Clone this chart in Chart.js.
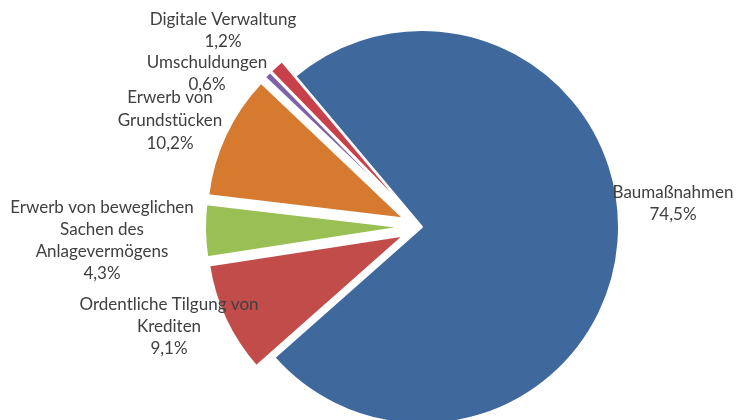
<!DOCTYPE html>
<html><head><meta charset="utf-8">
<script src="https://cdn.jsdelivr.net/npm/chart.js@4.4.1/dist/chart.umd.min.js"></script>
<style>html,body{margin:0;padding:0;background:#fff}#wrap{width:737px;height:420px;position:relative}</style>
</head><body><div id="wrap"><canvas id="c" width="737" height="420"></canvas></div>
<script>
const categories = ["Baumaßnahmen","Ordentliche Tilgung von Krediten","Erwerb von beweglichen Sachen des Anlagevermögens","Erwerb von Grundstücken","Umschuldungen","Digitale Verwaltung"];
const shares = [74.5, 9.1, 4.3, 10.2, 0.6, 1.2];
const valueLabels = ["74,5%","9,1%","4,3%","10,2%","0,6%","1,2%"];
const labelLines = [["Baumaßnahmen"],["Ordentliche Tilgung von","Krediten"],["Erwerb von beweglichen","Sachen des","Anlagevermögens"],["Erwerb von","Grundstücken"],["Umschuldungen"],["Digitale Verwaltung"]];
const colors = ["#3F689D","#C14C4A","#99BF55","#D57A2F","#7E63A8","#C8414A"];
// explosion distance per slice (px)
const explode = [0, 20, 20, 20, 20, 20];
// label placement (center x, first line y, line height)
const labelPos = [[673,193,22],[169,305,22],[102,208,22],[170,98,23],[207,63,22],[223,20,22]];

const explodePlugin = {
  id:'explode',
  beforeDatasetDraw(chart, args){
    const ctx = chart.ctx;
    args.meta.data.forEach((arc,i)=>{
      const d = explode[i] || 0;
      const mid = (arc.startAngle + arc.endAngle)/2;
      ctx.save();
      ctx.translate(Math.cos(mid)*d, Math.sin(mid)*d);
      arc.draw(ctx);
      ctx.restore();
    });
    return false;
  }
};

const labelPlugin = {
  id:'lbl',
  afterDatasetsDraw(chart){
    const ctx = chart.ctx;
    ctx.save();
    ctx.font = '17px Lato';
    ctx.fillStyle = '#404040';
    ctx.textAlign = 'center';
    ctx.textBaseline = 'middle';
    labelLines.forEach((lines,i)=>{
      const [x,y,lh] = labelPos[i];
      const all = lines.concat([valueLabels[i]]);
      all.forEach((t,k)=>ctx.fillText(t,x,y+k*lh));
    });
    ctx.restore();
  }
};

new Chart(document.getElementById('c'),{
  type:'pie',
  data:{labels:categories,datasets:[{data:shares,backgroundColor:colors,borderColor:'#ffffff',borderWidth:2,clip:false}]},
  options:{
    responsive:false,animation:false,
    rotation:-40,
    radius:197,
    layout:{padding:{left:107,right:0,top:34,bottom:0}},
    plugins:{legend:{display:false},tooltip:{enabled:false}}
  },
  plugins:[explodePlugin,labelPlugin]
});
</script></body></html>
